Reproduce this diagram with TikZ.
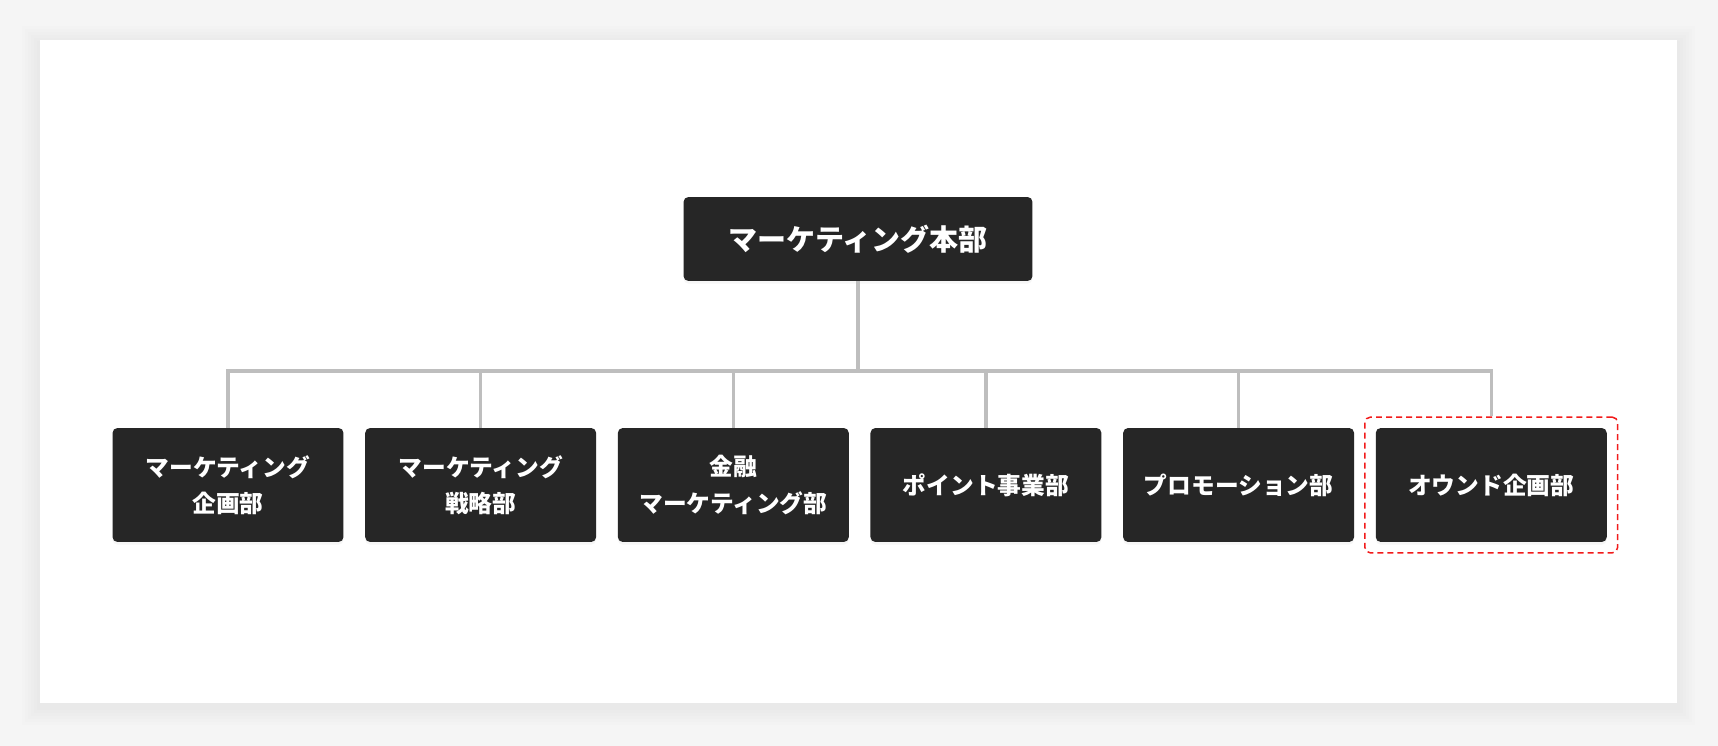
\documentclass[tikz,border=0pt]{standalone}
\usepackage{fontspec}
\setmainfont{Noto Sans CJK JP}
\usepackage{tikz}
\usepackage{xcolor}
\usetikzlibrary{positioning, fit, shadows}

\definecolor{pagebg}{HTML}{F5F5F5}
\definecolor{boxfill}{HTML}{262626}
\definecolor{linkgray}{HTML}{BEBEBE}
\definecolor{markred}{HTML}{F21B1B}

\begin{document}
\begin{tikzpicture}[
            x=0.02cm, y=-0.02cm,
            % Styles for the org chart
            head/.style={rectangle, fill=boxfill, rounded corners=2.8pt, minimum height=1.68cm,
                    minimum width=6.98cm, align=center, text=white,
                    font=\bfseries\fontsize{16.5}{20}\selectfont,
                    drop shadow={opacity=0.07, shadow xshift=0pt, shadow yshift=-1.5pt}},
            dept/.style={rectangle, fill=boxfill, rounded corners=2.8pt, minimum height=2.28cm,
                    minimum width=4.62cm, align=center, text=white,
                    font=\bfseries\fontsize{13.5}{20.5}\selectfont,
                    drop shadow={opacity=0.07, shadow xshift=0pt, shadow yshift=-1.5pt}},
            highlight/.style={rectangle, draw=markred, line width=0.85pt, dash pattern=on 3.4pt off 2.3pt,
                    rounded corners=3pt, inner sep=0.21cm},
            link/.style={draw=linkgray, line width=2pt},
            ]

            % === PAGE AND PANEL ===
            \fill[pagebg] (0,0) rectangle (1718,746);
            \foreach \s in {3,6,...,18}
                \fill[black, opacity=0.008] (40-\s,40-\s+4) rectangle (1677+\s,703+\s+4);
            \fill[white] (40,40) rectangle (1677,703);

            % === TOP ===
            \node[head] (hq) at (858,239) {マーケティング本部};

            % === DEPARTMENTS ===
            \node[dept] (d1) at (228,485) {マーケティング\\企画部};
            \node[dept, right=0.42cm of d1] (d2) {マーケティング\\戦略部};
            \node[dept, right=0.42cm of d2] (d3) {金融\\マーケティング部};
            \node[dept, right=0.42cm of d3] (d4) {ポイント事業部};
            \node[dept, right=0.42cm of d4] (d5) {プロモーション部};
            \node[dept, right=0.42cm of d5] (d6) {オウンド企画部};

            % dashed frame round the last one
            \node[highlight, fit=(d6)] (hl) {};

            % === CONNECTIONS ===
            \coordinate (bus) at (858,371);
            \draw[link] (hq.south) -- (bus);
            \draw[link, line cap=rect] (d1.north |- bus) -- (hl.north |- bus);
            \foreach \d in {d1,d2,d3,d4,d5}
                \draw[link] (\d.north) -- (\d.north |- bus);
            \draw[link] (hl.north) -- (hl.north |- bus);

        \end{tikzpicture}
\end{document}
